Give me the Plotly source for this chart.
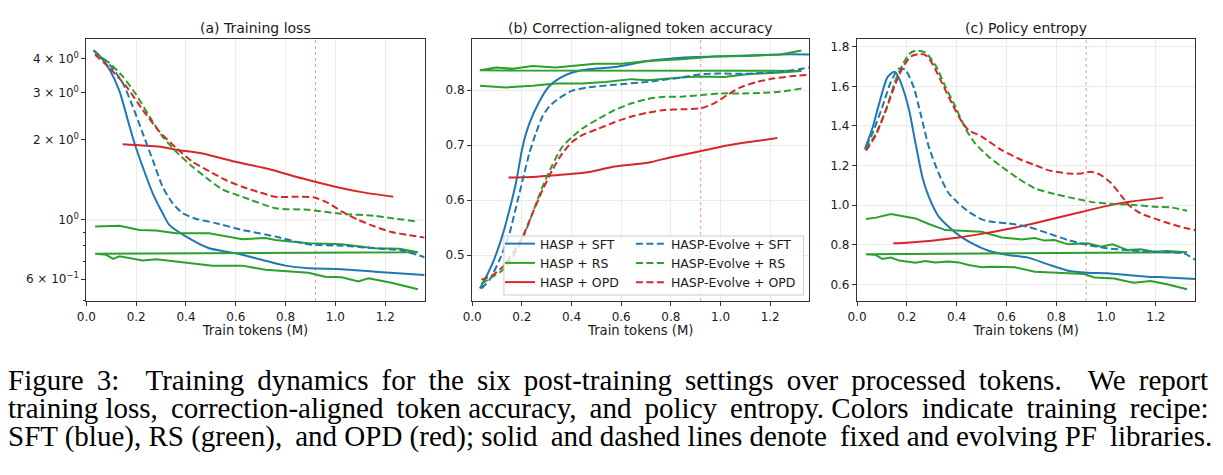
import math
import plotly.graph_objects as go

# ---------------- data ----------------
TICKS_X = [0.0, 0.2, 0.4, 0.6, 0.8, 1.0, 1.2]
VLINE_X = 0.92

# (a) Training loss
a_sft_x = [0.029, 0.06, 0.093, 0.133, 0.166, 0.193, 0.226, 0.266, 0.306, 0.333, 0.399, 0.493, 0.599, 0.706, 0.799, 0.892, 1.025, 1.158, 1.358]
a_sft_y = [4.31, 4.04, 3.65, 3.03, 2.37, 1.94, 1.58, 1.26, 1.06, 0.957, 0.867, 0.783, 0.75, 0.708, 0.674, 0.659, 0.654, 0.64, 0.622]
a_esft_x = [0.029, 0.093, 0.146, 0.186, 0.226, 0.266, 0.306, 0.346, 0.386, 0.439, 0.519, 0.626, 0.759, 0.892, 1.025, 1.158, 1.265, 1.358]
a_esft_y = [4.30, 3.81, 3.25, 2.66, 2.11, 1.68, 1.33, 1.155, 1.06, 1.01, 0.972, 0.917, 0.866, 0.81, 0.80, 0.783, 0.768, 0.725]
a_opd_x = [0.146, 0.293, 0.360, 0.466, 0.599, 0.732, 0.865, 0.999, 1.105, 1.232]
a_opd_y = [1.92, 1.88, 1.83, 1.77, 1.65, 1.55, 1.43, 1.33, 1.27, 1.22]
a_eopd_x = [0.035, 0.093, 0.160, 0.226, 0.293, 0.360, 0.426, 0.493, 0.559, 0.626, 0.692, 0.759, 0.852, 0.919, 0.972, 1.025, 1.092, 1.158, 1.225, 1.292, 1.358]
a_eopd_y = [4.15, 3.70, 3.16, 2.58, 2.14, 1.86, 1.65, 1.52, 1.41, 1.33, 1.27, 1.22, 1.22, 1.21, 1.155, 1.075, 1.0, 0.944, 0.90, 0.878, 0.858]
a_ers_x = [0.035, 0.093, 0.146, 0.2, 0.253, 0.306, 0.360, 0.426, 0.493, 0.546, 0.626, 0.759, 0.892, 1.025, 1.158, 1.225, 1.325]
a_ers_y = [4.2, 3.86, 3.44, 2.94, 2.44, 2.05, 1.80, 1.58, 1.41, 1.30, 1.22, 1.106, 1.09, 1.053, 1.035, 1.015, 0.986]
# HASP + RS logged as two consecutive runs in one series
a_rs_x = [0.035, 0.133, 0.213, 0.280, 0.360, 0.493, 0.626, 0.719, 0.759, 0.892, 1.025, 1.158, 1.258, 1.331,
          0.035, 0.080, 0.107, 0.133, 0.226, 0.280, 0.360, 0.439, 0.506, 0.626, 0.719, 0.892, 0.959, 1.025, 1.092, 1.132, 1.225, 1.331]
a_rs_y = [0.944, 0.95, 0.917, 0.912, 0.891, 0.891, 0.846, 0.856, 0.841, 0.818, 0.81, 0.783, 0.78, 0.757,
          0.746, 0.74, 0.714, 0.73, 0.704, 0.712, 0.698, 0.684, 0.674, 0.674, 0.65, 0.634, 0.613, 0.61, 0.588, 0.604, 0.582, 0.55]

# (b) Correction-aligned token accuracy
b_sft_x = [0.031, 0.057, 0.090, 0.124, 0.150, 0.177, 0.203, 0.230, 0.270, 0.310, 0.349, 0.403, 0.469, 0.575, 0.708, 0.841, 0.974, 1.107, 1.240, 1.357]
b_sft_y = [0.439, 0.461, 0.494, 0.539, 0.582, 0.633, 0.697, 0.739, 0.779, 0.807, 0.821, 0.832, 0.838, 0.842, 0.853, 0.859, 0.861, 0.863, 0.865, 0.865]
b_esft_x = [0.037, 0.070, 0.110, 0.150, 0.177, 0.203, 0.230, 0.256, 0.283, 0.310, 0.349, 0.403, 0.469, 0.575, 0.708, 0.841, 0.921, 0.974, 1.107, 1.240, 1.357]
b_esft_y = [0.439, 0.455, 0.491, 0.539, 0.588, 0.636, 0.685, 0.721, 0.752, 0.770, 0.785, 0.799, 0.805, 0.810, 0.815, 0.823, 0.829, 0.830, 0.830, 0.833, 0.841]
b_opd_x = [0.146, 0.243, 0.336, 0.456, 0.575, 0.708, 0.801, 0.908, 1.001, 1.107, 1.229]
b_opd_y = [0.641, 0.642, 0.645, 0.650, 0.661, 0.668, 0.678, 0.688, 0.697, 0.705, 0.713]
b_eopd_x = [0.037, 0.084, 0.124, 0.163, 0.203, 0.243, 0.283, 0.323, 0.363, 0.403, 0.443, 0.509, 0.575, 0.642, 0.708, 0.775, 0.841, 0.921, 0.974, 1.027, 1.080, 1.147, 1.213, 1.280, 1.357]
b_eopd_y = [0.455, 0.464, 0.479, 0.503, 0.533, 0.576, 0.618, 0.655, 0.685, 0.706, 0.718, 0.730, 0.742, 0.752, 0.759, 0.764, 0.765, 0.767, 0.776, 0.791, 0.805, 0.815, 0.821, 0.825, 0.828]
b_ers_x = [0.037, 0.084, 0.124, 0.163, 0.203, 0.243, 0.283, 0.323, 0.363, 0.403, 0.443, 0.509, 0.575, 0.642, 0.708, 0.775, 0.841, 0.921, 1.001, 1.080, 1.173, 1.240, 1.326]
b_ers_y = [0.448, 0.461, 0.473, 0.497, 0.530, 0.576, 0.624, 0.664, 0.697, 0.715, 0.730, 0.748, 0.764, 0.776, 0.784, 0.788, 0.788, 0.791, 0.794, 0.794, 0.795, 0.797, 0.803]
b_rs_x = [0.031, 0.137, 0.243, 0.336, 0.443, 0.536, 0.642, 0.708, 0.841, 0.908, 1.014, 1.107, 1.240, 1.326,
          0.031, 0.097, 0.163, 0.243, 0.336, 0.416, 0.496, 0.602, 0.708, 0.841, 0.974, 1.107, 1.240, 1.326]
b_rs_y = [0.808, 0.805, 0.808, 0.812, 0.812, 0.815, 0.820, 0.818, 0.823, 0.825, 0.824, 0.829, 0.832, 0.835,
          0.836, 0.841, 0.839, 0.844, 0.841, 0.844, 0.848, 0.848, 0.853, 0.856, 0.861, 0.862, 0.865, 0.872]

# (c) Policy entropy
c_sft_x = [0.031, 0.062, 0.089, 0.122, 0.149, 0.162, 0.182, 0.209, 0.235, 0.262, 0.288, 0.328, 0.368, 0.421, 0.474, 0.528, 0.607, 0.687, 0.767, 0.847, 0.926, 1.006, 1.086, 1.165, 1.245, 1.359]
c_sft_y = [1.282, 1.388, 1.514, 1.645, 1.674, 1.657, 1.598, 1.48, 1.312, 1.144, 1.043, 0.942, 0.891, 0.837, 0.799, 0.77, 0.748, 0.735, 0.701, 0.669, 0.659, 0.656, 0.647, 0.639, 0.635, 0.627]
c_esft_x = [0.036, 0.062, 0.102, 0.136, 0.169, 0.195, 0.229, 0.255, 0.288, 0.328, 0.368, 0.408, 0.448, 0.501, 0.541, 0.607, 0.687, 0.767, 0.847, 0.926, 1.006, 1.086, 1.179, 1.245, 1.312, 1.359]
c_esft_y = [1.295, 1.362, 1.497, 1.623, 1.691, 1.682, 1.59, 1.463, 1.295, 1.16, 1.06, 1.009, 0.967, 0.928, 0.916, 0.908, 0.891, 0.858, 0.824, 0.799, 0.782, 0.773, 0.765, 0.762, 0.757, 0.723]
c_opd_x = [0.146, 0.2, 0.3, 0.4, 0.5, 0.6, 0.7, 0.8, 0.9, 1.0, 1.1, 1.229]
c_opd_y = [0.807, 0.81, 0.82, 0.835, 0.855, 0.878, 0.905, 0.935, 0.965, 0.995, 1.018, 1.038]
c_eopd_x = [0.036, 0.076, 0.116, 0.155, 0.182, 0.215, 0.249, 0.275, 0.302, 0.342, 0.381, 0.421, 0.448, 0.501, 0.581, 0.660, 0.714, 0.767, 0.847, 0.900, 0.940, 0.979, 1.019, 1.059, 1.092, 1.139, 1.192, 1.245, 1.312, 1.359]
c_eopd_y = [1.275, 1.354, 1.48, 1.615, 1.691, 1.75, 1.763, 1.758, 1.716, 1.615, 1.514, 1.421, 1.379, 1.346, 1.278, 1.228, 1.203, 1.177, 1.16, 1.16, 1.169, 1.152, 1.113, 1.051, 1.0, 0.958, 0.933, 0.911, 0.886, 0.874]
c_ers_x = [0.036, 0.076, 0.116, 0.155, 0.182, 0.209, 0.235, 0.275, 0.315, 0.355, 0.395, 0.435, 0.474, 0.528, 0.581, 0.647, 0.714, 0.793, 0.873, 0.953, 1.033, 1.112, 1.192, 1.258, 1.325]
c_ers_y = [1.282, 1.362, 1.48, 1.632, 1.707, 1.763, 1.78, 1.77, 1.707, 1.598, 1.497, 1.388, 1.312, 1.245, 1.194, 1.135, 1.085, 1.056, 1.034, 1.014, 1.006, 1.001, 0.992, 0.989, 0.972]
c_rs_x = [0.036, 0.076, 0.136, 0.182, 0.235, 0.288, 0.355, 0.421, 0.501, 0.581, 0.660, 0.714, 0.753, 0.793, 0.847, 0.926, 0.979, 1.026, 1.086, 1.139, 1.192, 1.245, 1.325,
          0.036, 0.076, 0.102, 0.136, 0.169, 0.235, 0.275, 0.315, 0.368, 0.408, 0.448, 0.501, 0.541, 0.634, 0.714, 0.820, 0.913, 0.953, 1.033, 1.086, 1.112, 1.179, 1.245, 1.325]
c_rs_y = [0.93, 0.937, 0.955, 0.945, 0.933, 0.905, 0.874, 0.871, 0.866, 0.837, 0.827, 0.834, 0.821, 0.824, 0.802, 0.807, 0.79, 0.802, 0.773, 0.777, 0.765, 0.768, 0.762,
          0.752, 0.748, 0.728, 0.735, 0.72, 0.709, 0.718, 0.711, 0.715, 0.711, 0.698, 0.686, 0.689, 0.686, 0.664, 0.659, 0.652, 0.635, 0.63, 0.614, 0.608, 0.617, 0.601, 0.575]

PANEL_TITLES = ["(a) Training loss", "(b) Correction-aligned token accuracy", "(c) Policy entropy"]
X_TITLE = "Train tokens (M)"
A_TICKVALS = [0.6, 1, 2, 3, 4]
A_TICKTEXT = ["6 × 10<sup>−1</sup>", "10<sup>0</sup>", "2 × 10<sup>0</sup>", "3 × 10<sup>0</sup>", "4 × 10<sup>0</sup>"]
A_MINOR = [0.5, 0.7, 0.8, 0.9]
B_TICKVALS = [0.5, 0.6, 0.7, 0.8]
C_TICKVALS = [0.6, 0.8, 1.0, 1.2, 1.4, 1.6, 1.8]
CAPTION = [
    "Figure 3:  Training dynamics for the six post-training settings over processed tokens.  We report",
    "training loss, correction-aligned token accuracy, and policy entropy. Colors indicate training recipe:",
    "SFT (blue), RS (green), and OPD (red); solid and dashed lines denote fixed and evolving PF libraries.",
]

# ---------------- style ----------------
BLUE, GREEN, RED = "#1f77b4", "#2ca02c", "#d62728"
W, H = 1223, 475
FONT = "DejaVu Sans"
DASH = "7px,3.5px"
LW = 2

fig = go.Figure()

panels = [
    (("x", "y"), a_sft_x, a_sft_y, a_rs_x, a_rs_y, a_opd_x, a_opd_y, a_esft_x, a_esft_y, a_ers_x, a_ers_y, a_eopd_x, a_eopd_y),
    (("x2", "y2"), b_sft_x, b_sft_y, b_rs_x, b_rs_y, b_opd_x, b_opd_y, b_esft_x, b_esft_y, b_ers_x, b_ers_y, b_eopd_x, b_eopd_y),
    (("x3", "y3"), c_sft_x, c_sft_y, c_rs_x, c_rs_y, c_opd_x, c_opd_y, c_esft_x, c_esft_y, c_ers_x, c_ers_y, c_eopd_x, c_eopd_y),
]

names = ["HASP + SFT", "HASP + RS", "HASP + OPD", "HASP-Evolve + SFT", "HASP-Evolve + RS", "HASP-Evolve + OPD"]
colors = [BLUE, GREEN, RED, BLUE, GREEN, RED]
dashes = ["solid", "solid", "solid", DASH, DASH, DASH]
legends = ["legend", "legend", "legend", "legend2", "legend2", "legend2"]

for pi, p in enumerate(panels):
    xa, ya = p[0]
    series = p[1:]
    for k in range(6):
        xs, ys = series[2 * k], series[2 * k + 1]
        fig.add_trace(go.Scatter(
            x=xs, y=ys, xaxis=xa, yaxis=ya, mode="lines", name=names[k],
            line=dict(color=colors[k], width=LW, dash=dashes[k],
                      shape="linear" if k == 1 else "spline", smoothing=0.6),
            legend=legends[k], showlegend=(pi == 1), legendrank=k,
            hoverinfo="skip"))

# plot rectangles in pixels
px = [(77, 418), (466, 806), (854, 1195)]
top_px, bot_px = 39, 301
ydom = [1 - bot_px / H, 1 - top_px / H]

common_x = dict(range=[0, 1.358], tickvals=TICKS_X, tickformat=".1f", showline=True, mirror=True,
                linecolor="#333333", linewidth=1.2, ticks="outside", ticklen=4, tickwidth=1,
                tickcolor="#333333", showgrid=True, gridcolor="#ebebeb", gridwidth=1, zeroline=False,
                tickfont=dict(family=FONT, size=12, color="#1a1a1a"),
                title=dict(text=X_TITLE, font=dict(family=FONT, size=13.2, color="#1a1a1a"), standoff=2))
common_y = dict(showline=True, mirror=True, linecolor="#333333", linewidth=1.2, ticks="outside",
                ticklen=4, tickwidth=1, tickcolor="#333333", showgrid=True, gridcolor="#ebebeb",
                gridwidth=1, zeroline=False, tickfont=dict(family=FONT, size=12, color="#1a1a1a"))

layout = dict(width=W, height=H, margin=dict(l=0, r=0, t=0, b=0), plot_bgcolor="white",
              paper_bgcolor="white", font=dict(family=FONT, color="#1a1a1a"))
for i, (l, r) in enumerate(px):
    sfx = "" if i == 0 else str(i + 1)
    layout["xaxis" + sfx] = dict(common_x, domain=[l / W, r / W], anchor="y" + sfx)
layout["yaxis"] = dict(common_y, domain=ydom, anchor="x", type="log",
                       range=[math.log10(0.497), math.log10(4.75)], tickvals=A_TICKVALS, ticktext=A_TICKTEXT,
                       showgrid=False,
                       minor=dict(tickvals=A_MINOR, ticks="outside", ticklen=2.5, tickcolor="#333333", showgrid=False))
layout["yaxis2"] = dict(common_y, domain=ydom, anchor="x2", range=[0.4164, 0.893], tickvals=B_TICKVALS, tickformat=".1f")
layout["yaxis3"] = dict(common_y, domain=ydom, anchor="x3", range=[0.516, 1.839], tickvals=C_TICKVALS, tickformat=".1f")

fig.update_layout(**layout)

# major grid line at 10^0 for log panel, vertical reference lines
shapes = [dict(type="line", xref="x domain", yref="y", x0=0, x1=1, y0=1, y1=1,
               line=dict(color="#ebebeb", width=1), layer="below")]
for sfx in ["", "2", "3"]:
    shapes.append(dict(type="line", xref="x" + sfx, yref="y" + sfx + " domain", x0=VLINE_X, x1=VLINE_X,
                       y0=0, y1=1, line=dict(color="rgba(214,39,40,0.45)", width=1, dash="dot"), layer="above"))
# legend frame
lg_l, lg_r, lg_t, lg_b = 498, 800, 236, 295
shapes.append(dict(type="rect", xref="paper", yref="paper", x0=lg_l / W, x1=lg_r / W,
                   y0=1 - lg_b / H, y1=1 - lg_t / H, fillcolor="rgba(255,255,255,0.8)",
                   line=dict(color="#cccccc", width=1), layer="above"))
fig.update_layout(shapes=shapes)

legend_common = dict(bgcolor="rgba(0,0,0,0)", borderwidth=0, font=dict(family=FONT, size=12.5, color="#1a1a1a"),
                     itemwidth=30, xanchor="left", yanchor="top", tracegroupgap=0, itemclick=False)
fig.update_layout(
    legend=dict(legend_common, x=(lg_l - 4) / W, y=1 - (lg_t - 7) / H),
    legend2=dict(legend_common, x=(lg_l + 128) / W, y=1 - (lg_t - 7) / H),
)

ann = []
for i, (l, r) in enumerate(px):
    ann.append(dict(text=PANEL_TITLES[i], xref="paper", yref="paper", x=(l + r) / 2 / W, y=1 - 28 / H,
                    xanchor="center", yanchor="middle", showarrow=False,
                    font=dict(family=FONT, size=14, color="#1a1a1a")))


def justify(line, n_wide):
    # widen n_wide of the inter-word gaps (spread evenly) with a thin space: approximate justification
    parts = line.split(" ")
    gaps = len(parts) - 1
    out = parts[0]
    for j, w in enumerate(parts[1:]):
        wide = (j + 1) * n_wide // gaps > j * n_wide // gaps
        out += (" \u2009" if wide else " ") + w
    return out


n_wide = [16, 8, 4]
cap_y = [380, 408, 436]
for i, line in enumerate(CAPTION):
    ann.append(dict(text=justify(line, n_wide[i]), xref="paper", yref="paper", x=-4 / W, y=1 - cap_y[i] / H,
                    xanchor="left", yanchor="middle", showarrow=False,
                    font=dict(family="Liberation Serif", size=29, color="black")))
fig.update_layout(annotations=ann)

fig.write_html("out.html")
